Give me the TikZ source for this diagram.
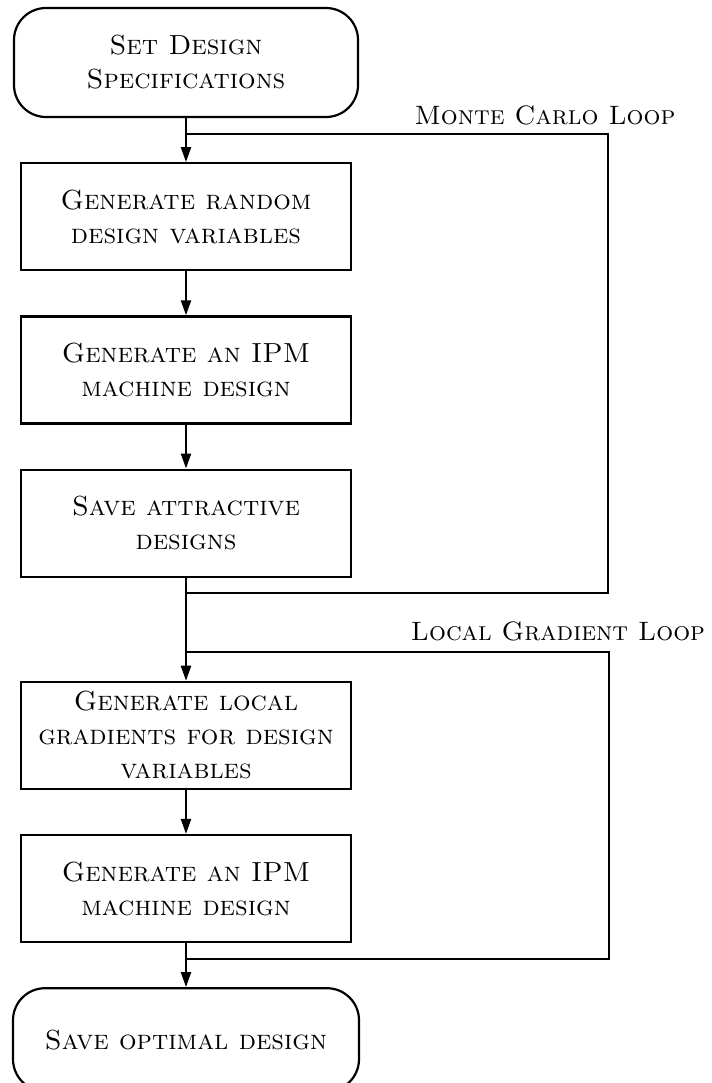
\documentclass[tikz,border=0pt]{standalone}
\usetikzlibrary{positioning,arrows.meta,calc}

\begin{document}
\begin{tikzpicture}[
    font=\fontsize{13.8}{17}\selectfont\scshape,
    >={Triangle[length=7.5pt,width=5pt]},
    node distance=22pt,
    terminal/.style = {rectangle, rounded corners=16pt, draw, line width=1.1pt,
                       align=center, minimum width=172pt, inner sep=2pt},
    process/.style  = {rectangle, draw, line width=1.1pt, align=center,
                       minimum width=165pt, minimum height=53.5pt, inner sep=2pt},
    flow/.style     = {->, line width=1.1pt},
    loopline/.style = {line width=1.1pt},
    looplabel/.style= {anchor=base, inner sep=0pt,
                       font=\fontsize{13.3}{16}\selectfont\scshape}
]
\useasboundingbox (0,0) rectangle (356pt,-541.5pt);

% --- Main column (top to bottom) --------------------------------------------
\node[terminal, minimum height=54.5pt] (spec) at (93pt,-31.25pt)
  {Set Design\\ Specifications};

\node[process, below=of spec]         (random)
  {Generate random\\ design variables};

\node[process, below=of random]       (ipmA)
  {Generate an IPM\\ machine design};

\node[process, below=of ipmA]         (save)
  {Save attractive\\ designs};

\node[process, below=51.5pt of save]  (grad)
  {Generate local\\ gradients for design\\ variables};

\node[process, below=of grad]         (ipmB)
  {Generate an IPM\\ machine design};

\node[terminal, minimum height=51.5pt, minimum width=173pt,
      below=of ipmB]                  (optimal)
  {Save optimal design};

% --- Flows -------------------------------------------------------------------
\draw[flow] (spec)   -- (random);
\draw[flow] (random) -- (ipmA);
\draw[flow] (ipmA)   -- (save);
\draw[flow] (save)   -- (grad);
\draw[flow] (grad)   -- (ipmB);
\draw[flow] (ipmB)   -- (optimal);

% --- Monte Carlo loop (right) ------------------------------------------------
\coordinate (mcTop) at ([yshift=-8pt]spec.south);
\coordinate (mcBot) at ([yshift=-7.5pt]save.south);
\draw[loopline] (mcTop) -- ++(211pt,0) |- (mcBot);
\node[looplabel] at ($(mcTop)+(179.5pt,5pt)$) {Monte Carlo Loop};

% --- Local gradient loop (right) ---------------------------------------------
\coordinate (lgTop) at ([yshift=14.5pt]grad.north);
\coordinate (lgBot) at ([yshift=-8pt]ipmB.south);
\draw[loopline] (lgTop) -- ++(211.5pt,0) |- (lgBot);
\node[looplabel] at ($(lgTop)+(186pt,5.5pt)$) {Local Gradient Loop};

\end{tikzpicture}
\end{document}
